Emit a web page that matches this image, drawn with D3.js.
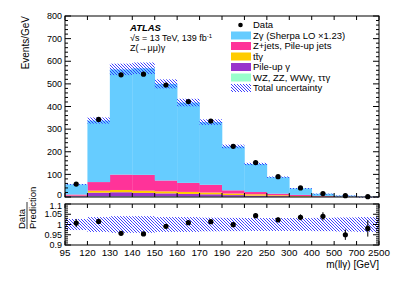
<!DOCTYPE html>
<html>
<head>
<meta charset="utf-8">
<script src="https://cdn.jsdelivr.net/npm/d3@7"></script>
<style>
  body { margin: 0; background: #fff; }
  svg text { font-family: "Liberation Sans", Arial, sans-serif; fill: #000; }
</style>
</head>
<body>
<div id="chartArea"></div>
<script>
// bin edges of m(llγ) [GeV], bins drawn with equal width
const binEdges = [95, 120, 130, 140, 150, 160, 170, 190, 220, 250, 300, 400, 500, 700, 2500];

// Events/GeV, stacked from bottom
const otherVV   = [2, 3, 3, 3, 3, 2.5, 2, 1.5, 1, 0.7, 0.4, 0.2, 0.1, 0.02];
const pileupGam = [3, 16, 18, 15, 13, 11, 10, 7, 5, 3, 1.5, 0.7, 0.3, 0.05];
const ttgamma   = [1, 9, 10, 10, 9, 9, 8, 7, 6, 4, 2.5, 1.2, 0.5, 0.1];
const zjets     = [5, 38, 68, 70, 48, 40, 34, 14, 10, 7, 5, 2.5, 1, 0.2];
const zgamma    = [45, 272, 465, 471, 427, 355, 277, 194, 124, 73, 29, 9.8, 4.4, 1.1];
const relUnc    = [0.03, 0.04, 0.045, 0.045, 0.04, 0.04, 0.037, 0.036, 0.035, 0.035, 0.035, 0.036, 0.038, 0.04];

const dataVals  = [57, 343, 540, 543, 495, 422, 336, 224, 152, 90, 40, 15, 6, 1.5];
const ratioVals = [1.007, 1.015, 0.957, 0.954, 0.991, 1.009, 1.014, 0.999, 1.043, 1.023, 1.035, 1.04, 0.95, 0.981];
const ratioErr  = [0.02, 0.012, 0.009, 0.009, 0.009, 0.009, 0.01, 0.011, 0.012, 0.012, 0.014, 0.02, 0.025, 0.04];

const yTicksMain = [0, 100, 200, 300, 400, 500, 600, 700, 800];
const yTicksRatio = [0.9, 0.95, 1, 1.05, 1.1];

const components = [
  { name: "WZ, ZZ, WWγ, ττγ", vals: otherVV, color: "#99ffcc" },
  { name: "Pile-up γ", vals: pileupGam, color: "#9933cc" },
  { name: "tt̄γ", vals: ttgamma, color: "#ffcc00" },
  { name: "Z+jets, Pile-up jets", vals: zjets, color: "#ff3399" },
  { name: "Zγ (Sherpa LO ×1.23)", vals: zgamma, color: "#66ccff" }
];

const W = 399, H = 287;
const left = 65, right = 379;
const mainTop = 16, mainBot = 197, ratTop = 204, ratBot = 245;

const svg = d3.select("#chartArea").append("svg")
  .attr("width", W).attr("height", H);

const defs = svg.append("defs");
const pat = defs.append("pattern")
  .attr("id", "hatch").attr("patternUnits", "userSpaceOnUse")
  .attr("width", 3).attr("height", 3);
pat.append("path")
  .attr("d", "M0,0 L3,3 M-1,2 L1,4 M2,-1 L4,1")
  .attr("stroke", "#2b2bff").attr("stroke-width", 0.9);

const nb = binEdges.length - 1;
const x = d3.scaleLinear().domain([0, nb]).range([left, right]);
const y = d3.scaleLinear().domain([0, 800]).range([mainBot, mainTop]);
const yr = d3.scaleLinear().domain([0.9, 1.1]).range([ratBot, ratTop]);

const bins = d3.range(nb);

// stacked histogram
let base = bins.map(() => 0);
components.forEach(c => {
  const b0 = base.slice();
  svg.append("g").selectAll("rect")
    .data(bins).enter().append("rect")
    .attr("x", i => x(i))
    .attr("width", x(1) - x(0) + 0.3)
    .attr("y", i => y(b0[i] + c.vals[i]))
    .attr("height", i => y(b0[i]) - y(b0[i] + c.vals[i]))
    .attr("fill", c.color);
  base = base.map((v, i) => v + c.vals[i]);
});
const total = base;

// uncertainty band (main)
svg.append("g").selectAll("rect")
  .data(bins).enter().append("rect")
  .attr("x", i => x(i))
  .attr("width", x(1) - x(0))
  .attr("y", i => y(total[i] * (1 + relUnc[i])))
  .attr("height", i => Math.max(1, y(total[i] * (1 - relUnc[i])) - y(total[i] * (1 + relUnc[i]))))
  .attr("fill", "url(#hatch)");

// uncertainty band (ratio)
svg.append("g").selectAll("rect")
  .data(bins).enter().append("rect")
  .attr("x", i => x(i))
  .attr("width", x(1) - x(0))
  .attr("y", i => yr(1 + relUnc[i] * 0.9))
  .attr("height", i => yr(1 - relUnc[i] * 0.9) - yr(1 + relUnc[i] * 0.9))
  .attr("fill", "url(#hatch)");

// frames
[[mainTop, mainBot], [ratTop, ratBot]].forEach(([t, b]) => {
  svg.append("rect").attr("x", left).attr("y", t)
    .attr("width", right - left).attr("height", b - t)
    .attr("fill", "none").attr("stroke", "#000").attr("stroke-width", 1);
});

// y ticks main
const ticksG = svg.append("g").attr("stroke", "#000").attr("stroke-width", 1);
d3.range(0, 801, 20).forEach(v => {
  const len = v % 100 === 0 ? 6 : 3;
  ticksG.append("line").attr("x1", left).attr("x2", left + len).attr("y1", y(v)).attr("y2", y(v));
  ticksG.append("line").attr("x1", right).attr("x2", right - len).attr("y1", y(v)).attr("y2", y(v));
});
svg.append("g").selectAll("text").data(yTicksMain).enter().append("text")
  .attr("x", left - 3).attr("y", d => d === 0 ? y(d) + 1.3 : y(d) + 3.2)
  .attr("text-anchor", "end").attr("font-size", 9).text(d => d);

// y ticks ratio
d3.range(0.9, 1.1001, 0.01).forEach(v => {
  const major = Math.abs(Math.round(v * 20) - v * 20) < 1e-6;
  const len = major ? 6 : 3;
  ticksG.append("line").attr("x1", left).attr("x2", left + len).attr("y1", yr(v)).attr("y2", yr(v));
  ticksG.append("line").attr("x1", right).attr("x2", right - len).attr("y1", yr(v)).attr("y2", yr(v));
});
svg.append("g").selectAll("text").data(yTicksRatio).enter().append("text")
  .attr("x", left - 3).attr("y", d => d === 1.1 ? yr(d) + 4.6 : yr(d) + 3.2)
  .attr("text-anchor", "end").attr("font-size", 9).text(d => d);

// x ticks at bin edges
d3.range(nb + 1).forEach(i => {
  [[mainBot, -4], [mainTop, 4], [ratBot, -4], [ratTop, 4]].forEach(([yy, d]) => {
    ticksG.append("line").attr("x1", x(i)).attr("x2", x(i)).attr("y1", yy).attr("y2", yy + d);
  });
});
svg.append("g").selectAll("text").data(binEdges).enter().append("text")
  .attr("x", (d, i) => x(i)).attr("y", ratBot + 10.5)
  .attr("text-anchor", "middle").attr("font-size", 9.8).text(d => d);

// data points main
svg.append("g").selectAll("circle").data(bins).enter().append("circle")
  .attr("cx", i => x(i + 0.5)).attr("cy", i => y(dataVals[i]))
  .attr("r", 2.6).attr("fill", "#000");

// ratio points with errors
const rp = svg.append("g");
rp.selectAll("line").data(bins).enter().append("line")
  .attr("x1", i => x(i + 0.5)).attr("x2", i => x(i + 0.5))
  .attr("y1", i => yr(ratioVals[i] - ratioErr[i])).attr("y2", i => yr(ratioVals[i] + ratioErr[i]))
  .attr("stroke", "#000").attr("stroke-width", 1);
rp.selectAll("circle").data(bins).enter().append("circle")
  .attr("cx", i => x(i + 0.5)).attr("cy", i => yr(ratioVals[i]))
  .attr("r", 2.6).attr("fill", "#000");

// axis titles
svg.append("text").attr("transform", `translate(29,${mainTop}) rotate(-90)`)
  .attr("text-anchor", "end").attr("font-size", 10).text("Events/GeV");
svg.append("text").attr("x", right).attr("y", 268)
  .attr("text-anchor", "end").attr("font-size", 10).text("m(llγ) [GeV]");
svg.append("text").attr("transform", "translate(25,229) rotate(-90)")
  .attr("text-anchor", "start").attr("font-size", 9.5).text("Data");
svg.append("line").attr("x1", 27).attr("x2", 27).attr("y1", 229).attr("y2", 202)
  .attr("stroke", "#000").attr("stroke-width", 0.8);
svg.append("text").attr("transform", "translate(35.5,229) rotate(-90)")
  .attr("text-anchor", "start").attr("font-size", 9.5).text("Prediction");

// labels
svg.append("text").attr("x", 130).attr("y", 30.5)
  .attr("font-size", 9.5).attr("font-weight", "bold").attr("font-style", "italic").text("ATLAS");
const ecm = svg.append("text").attr("x", 130).attr("y", 41).attr("font-size", 9);
ecm.append("tspan").text("√s = 13 TeV, 139 fb");
ecm.append("tspan").attr("font-size", 6).attr("dy", -3.5).text("-1");
svg.append("text").attr("x", 130).attr("y", 51).attr("font-size", 9).text("Z(→μμ)γ");

// legend
const legendItems = [
  { name: "Data", type: "data" },
  ...components.slice().reverse().map(c => ({ name: c.name, type: "box", color: c.color })),
  { name: "Total uncertainty", type: "hatch" }
];
const lg = svg.append("g");
legendItems.forEach((d, k) => {
  const cy = 25 + k * 10.5;
  if (d.type === "data") {
    lg.append("circle").attr("cx", 240.5).attr("cy", cy).attr("r", 2.3).attr("fill", "#000");
  } else {
    lg.append("rect").attr("x", 231).attr("y", cy - 4).attr("width", 20).attr("height", 8)
      .attr("fill", d.type === "hatch" ? "url(#hatch)" : d.color);
  }
  lg.append("text").attr("x", 253).attr("y", cy + 3.3).attr("font-size", 9.5).text(d.name);
});
</script>
</body>
</html>
